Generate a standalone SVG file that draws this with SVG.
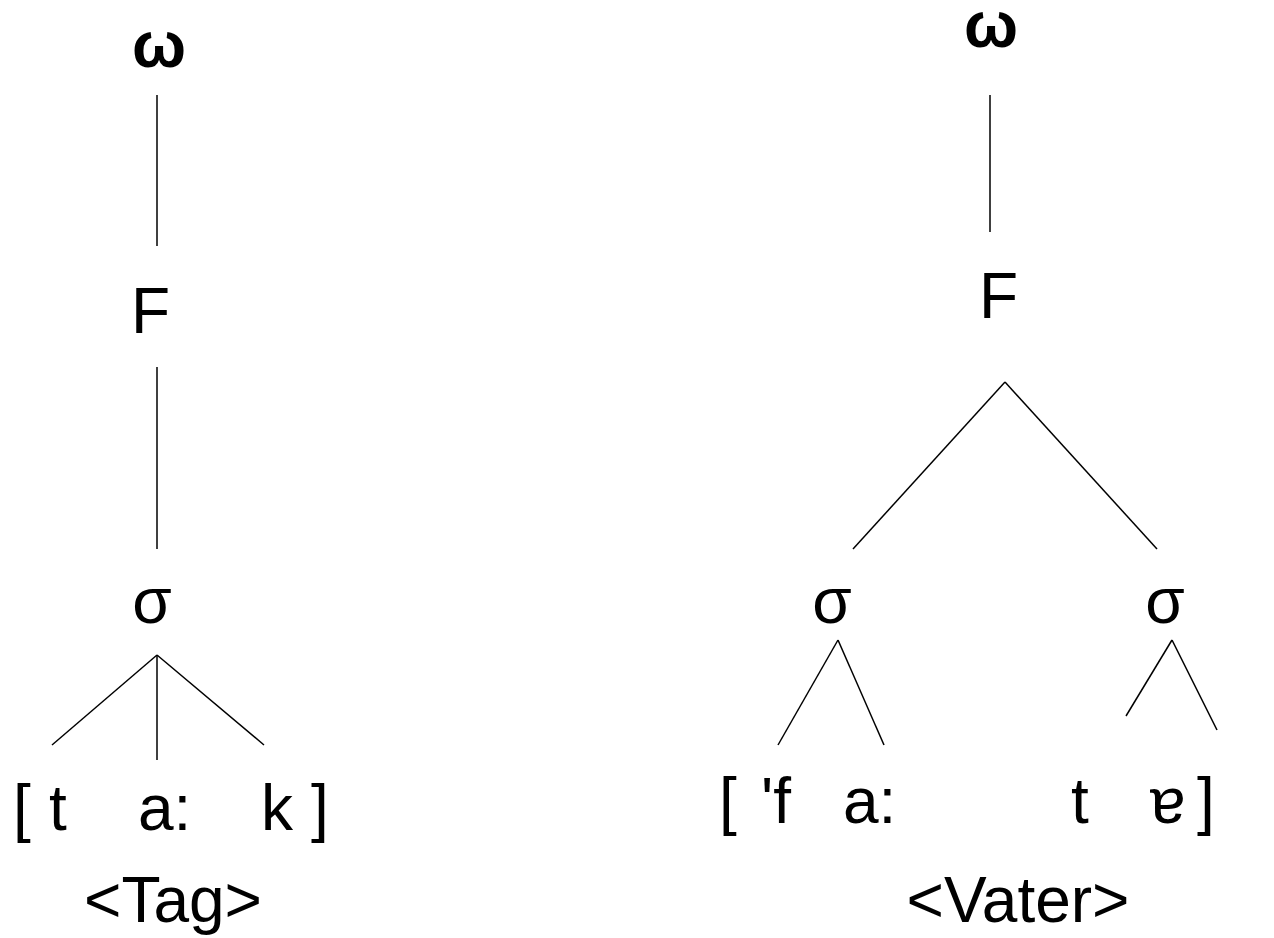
<svg xmlns="http://www.w3.org/2000/svg" width="1274" height="938" viewBox="0 0 1274 938">
<style>
text { font-family: "Liberation Sans", Arial, "DejaVu Sans", sans-serif; font-size: 64px; fill: #000; }
.b { font-weight: bold; }
.m { text-anchor: middle; }
line { stroke: #000; stroke-width: 1.5; }
</style>
<rect width="1274" height="938" fill="#fff"/>
<g id="connectors">
<line x1="157" y1="95" x2="157" y2="246"/>
<line x1="157" y1="367" x2="157" y2="549"/>
<line x1="157" y1="655" x2="52" y2="745"/>
<line x1="157" y1="655" x2="157" y2="760"/>
<line x1="157" y1="655" x2="264" y2="745"/>
<line x1="990" y1="95" x2="990" y2="232"/>
<line x1="1005" y1="382" x2="853" y2="549"/>
<line x1="1005" y1="382" x2="1157" y2="549"/>
<line x1="838" y1="640" x2="778" y2="745"/>
<line x1="838" y1="640" x2="884" y2="745"/>
<line x1="1172" y1="640" x2="1126" y2="716"/>
<line x1="1172" y1="640" x2="1217" y2="730"/>
</g>
<g id="left-omega"><text class="b m" x="159" y="67">ω</text></g>
<g id="left-F"><text x="131" y="333">F</text></g>
<g id="left-sigma"><text class="m" x="152" y="623">σ</text></g>
<g id="left-segments">
<text x="13" y="830">[</text>
<text x="49" y="830">t</text>
<text x="138" y="830">a:</text>
<text x="261" y="830">k</text>
<text x="311" y="830">]</text>
</g>
<g id="left-word"><text class="m" x="173" y="922">&lt;Tag&gt;</text></g>
<g id="right-omega"><text class="b m" x="991" y="47">ω</text></g>
<g id="right-F"><text x="979" y="318">F</text></g>
<g id="right-sigma1"><text class="m" x="832" y="623">σ</text></g>
<g id="right-sigma2"><text class="m" x="1165" y="623">σ</text></g>
<g id="right-segments">
<text x="719" y="823">[</text>
<text x="761" y="823">'f</text>
<text x="843" y="823">a:</text>
<text x="1071" y="823">t</text>
<text x="1150" y="823">ɐ</text>
<text x="1197" y="823">]</text>
</g>
<g id="right-word"><text class="m" x="1018" y="922">&lt;Vater&gt;</text></g>
</svg>
